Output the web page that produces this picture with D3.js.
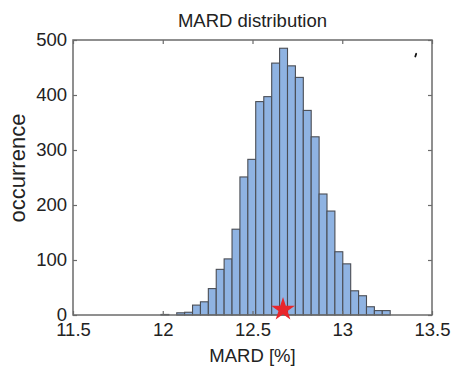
<!DOCTYPE html>
<html>
<head>
<meta charset="utf-8">
<script src="https://cdn.jsdelivr.net/npm/d3@7"></script>
<style>
  body { margin: 0; background: #fff; }
  svg text { font-family: "Liberation Sans", Arial, sans-serif; fill: #222; }
</style>
</head>
<body>
<div id="chart"></div>
<script>
// histogram bins (centre of each bin, MARD %) and counts
const binCenters = [12.012, 12.056, 12.100, 12.144, 12.188, 12.232, 12.276, 12.320, 12.364, 12.408,
                    12.452, 12.496, 12.540, 12.585, 12.629, 12.673, 12.717, 12.761, 12.805, 12.849,
                    12.893, 12.937, 12.981, 13.025, 13.069, 13.113, 13.157, 13.201, 13.245];
const binCounts  = [1, 0, 4, 5, 18, 24, 48, 83, 102, 156,
                    251, 283, 388, 397, 458, 485, 453, 432, 372, 324,
                    220, 189, 115, 93, 44, 35, 15, 8, 8];
const binWidth = 0.0441;

// the reference value (red star)
const markerX = [12.67];
const markerY = [10];

const xTicks = [11.5, 12, 12.5, 13, 13.5];
const yTicks = [0, 100, 200, 300, 400, 500];

const W = 453, H = 366;
const margin = { top: 40, right: 21, bottom: 51, left: 73 };

const svg = d3.select("#chart").append("svg")
  .attr("width", W).attr("height", H);

const x = d3.scaleLinear().domain([11.5, 13.5]).range([margin.left, W - margin.right]);
const y = d3.scaleLinear().domain([0, 500]).range([H - margin.bottom, margin.top]);

const bins = binCenters.map((c, i) => ({ c: c, n: binCounts[i] }));

// bars
svg.append("g").selectAll("rect")
  .data(bins.filter(d => d.n > 0))
  .enter().append("rect")
  .attr("x", d => x(d.c - binWidth / 2))
  .attr("y", d => y(d.n))
  .attr("width", d => x(d.c + binWidth / 2) - x(d.c - binWidth / 2))
  .attr("height", d => y(0) - y(d.n))
  .attr("fill", "#8fb3e2")
  .attr("stroke", "#4a4d54")
  .attr("stroke-width", 1.1);

// axes with inward ticks, box style
const axisColor = "#6b6b6b";
function styleAxis(g) {
  g.select(".domain").remove();
  g.selectAll(".tick line").attr("stroke", axisColor).attr("stroke-width", 1.2);
  g.selectAll(".tick text").attr("font-size", 18.5).attr("fill", "#222")
    .attr("font-family", "Liberation Sans, Arial, sans-serif");
}

svg.append("g")
  .attr("transform", `translate(0,${y(0)})`)
  .call(d3.axisBottom(x).tickValues(xTicks).tickSize(-4).tickPadding(8).tickFormat(d3.format("")))
  .call(styleAxis);

svg.append("g")
  .attr("transform", `translate(0,${y(500)})`)
  .call(d3.axisTop(x).tickValues(xTicks).tickSize(-4).tickFormat(""))
  .call(styleAxis);

svg.append("g")
  .attr("transform", `translate(${x(11.5)},0)`)
  .call(d3.axisLeft(y).tickValues(yTicks).tickSize(-4).tickPadding(6))
  .call(styleAxis);

svg.append("g")
  .attr("transform", `translate(${x(13.5)},0)`)
  .call(d3.axisRight(y).tickValues(yTicks).tickSize(-4).tickFormat(""))
  .call(styleAxis);

// box
svg.append("rect")
  .attr("x", x(11.5)).attr("y", y(500))
  .attr("width", x(13.5) - x(11.5)).attr("height", y(0) - y(500))
  .attr("fill", "none").attr("stroke", axisColor).attr("stroke-width", 1.5);

// red star
svg.append("g").selectAll("path")
  .data(markerX.map((v, i) => ({ x: v, y: markerY[i] })))
  .enter().append("path")
  .attr("d", d3.symbol().type(d3.symbolStar).size(175))
  .attr("transform", d => `translate(${x(d.x)},${y(d.y)})`)
  .attr("fill", "#e8262b");

// little stray mark in the upper right corner
svg.append("line")
  .attr("x1", x(13.407)).attr("y1", y(470))
  .attr("x2", x(13.412)).attr("y2", y(475))
  .attr("stroke", "#111").attr("stroke-width", 1.8).attr("stroke-linecap", "round");

// texts
svg.append("text")
  .attr("x", (x(11.5) + x(13.5)) / 2).attr("y", 26.5)
  .attr("text-anchor", "middle").attr("font-size", 18.5)
  .text("MARD distribution");

svg.append("text")
  .attr("x", (x(11.5) + x(13.5)) / 2).attr("y", 362)
  .attr("text-anchor", "middle").attr("font-size", 18.5)
  .text("MARD [%]");

svg.append("text")
  .attr("transform", `translate(25,168) rotate(-90)`)
  .attr("text-anchor", "middle").attr("font-size", 22)
  .text("occurrence");
</script>
</body>
</html>
